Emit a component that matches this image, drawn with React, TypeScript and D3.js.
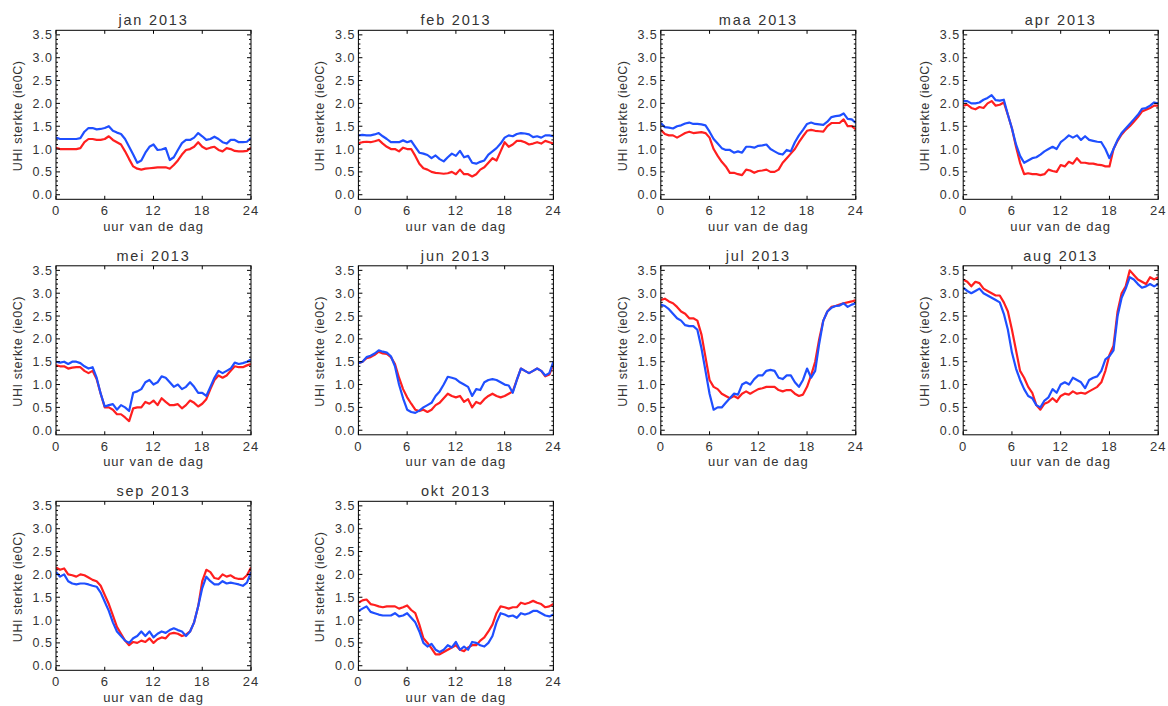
import React from "react";
import * as d3 from "d3";

// ---- data (half-hourly values, 0..24 h) ----
const monthTitles = ["jan 2013", "feb 2013", "maa 2013", "apr 2013", "mei 2013", "jun 2013", "jul 2013", "aug 2013", "sep 2013", "okt 2013"];
const xTickValues = [0, 6, 12, 18, 24];
const yTickValues = [0, 0.5, 1, 1.5, 2, 2.5, 3, 3.5];
const xAxisTitle = "uur van de dag";
const yAxisTitle = "UHI sterkte (ie0C)";

const janBlue = [1.25,1.22,1.22,1.22,1.22,1.22,1.24,1.38,1.46,1.46,1.43,1.44,1.46,1.50,1.40,1.36,1.33,1.22,1.05,0.88,0.70,0.75,0.92,1.05,1.10,0.98,0.99,1.02,0.76,0.82,0.98,1.13,1.20,1.20,1.25,1.35,1.28,1.20,1.22,1.27,1.22,1.15,1.12,1.20,1.20,1.15,1.15,1.16,1.24];
const janRed = [1.03,1.00,1.00,1.00,1.00,1.00,1.02,1.15,1.22,1.22,1.20,1.20,1.22,1.28,1.20,1.15,1.10,0.95,0.78,0.62,0.57,0.55,0.57,0.58,0.59,0.60,0.60,0.60,0.57,0.65,0.75,0.88,0.98,1.00,1.05,1.15,1.05,1.00,1.03,1.05,0.98,0.95,1.02,1.00,0.96,0.95,0.95,0.96,1.03];
const febBlue = [1.30,1.31,1.30,1.30,1.32,1.35,1.28,1.22,1.15,1.15,1.15,1.19,1.15,1.18,1.05,0.92,0.90,0.87,0.80,0.86,0.78,0.73,0.82,0.90,0.85,0.96,0.82,0.85,0.70,0.68,0.72,0.75,0.88,0.95,1.02,1.12,1.25,1.30,1.28,1.33,1.35,1.34,1.32,1.26,1.28,1.25,1.30,1.30,1.28];
const febRed = [1.13,1.15,1.16,1.15,1.17,1.20,1.12,1.05,1.00,1.00,0.95,1.03,1.00,1.00,0.85,0.68,0.58,0.55,0.50,0.48,0.47,0.46,0.47,0.50,0.45,0.55,0.45,0.45,0.40,0.45,0.55,0.60,0.70,0.80,0.75,0.95,1.15,1.05,1.10,1.18,1.18,1.15,1.10,1.12,1.15,1.12,1.18,1.15,1.12];
const maaBlue = [1.57,1.48,1.47,1.45,1.50,1.52,1.56,1.58,1.55,1.55,1.54,1.52,1.38,1.22,1.12,1.02,0.98,0.98,0.92,0.95,0.92,1.05,1.05,1.03,1.07,1.08,1.10,1.00,0.95,0.90,0.88,0.98,0.95,1.15,1.30,1.42,1.55,1.58,1.55,1.54,1.53,1.60,1.70,1.72,1.73,1.78,1.66,1.65,1.57];
const maaRed = [1.42,1.33,1.30,1.30,1.25,1.30,1.35,1.38,1.35,1.36,1.37,1.35,1.25,1.00,0.85,0.72,0.62,0.48,0.48,0.45,0.43,0.55,0.53,0.48,0.52,0.53,0.55,0.50,0.50,0.55,0.70,0.80,0.90,1.00,1.15,1.28,1.40,1.42,1.40,1.39,1.38,1.50,1.57,1.57,1.57,1.65,1.50,1.50,1.43];
const aprBlue = [2.05,2.05,2.00,2.00,2.02,2.08,2.12,2.18,2.07,2.06,2.08,1.75,1.45,1.10,0.85,0.70,0.75,0.80,0.82,0.88,0.95,1.00,1.05,1.00,1.15,1.22,1.30,1.25,1.30,1.20,1.28,1.20,1.18,1.16,1.15,1.00,0.80,1.00,1.20,1.35,1.45,1.55,1.65,1.75,1.88,1.90,1.95,2.02,2.00];
const aprRed = [1.95,1.97,1.90,1.87,1.92,1.90,2.00,2.05,1.95,1.97,2.02,1.75,1.45,1.05,0.70,0.45,0.47,0.45,0.45,0.43,0.45,0.55,0.52,0.50,0.65,0.62,0.72,0.68,0.80,0.70,0.70,0.68,0.68,0.66,0.65,0.62,0.62,1.00,1.18,1.32,1.42,1.50,1.60,1.70,1.82,1.86,1.90,1.95,1.95];
const meiBlue = [1.50,1.48,1.50,1.45,1.50,1.50,1.47,1.40,1.35,1.38,1.15,0.80,0.52,0.55,0.57,0.45,0.55,0.50,0.42,0.82,0.85,0.90,1.05,1.10,1.00,1.05,1.18,1.15,1.05,0.95,1.00,0.90,0.95,1.05,0.95,0.82,0.82,0.75,0.95,1.15,1.30,1.25,1.30,1.35,1.48,1.45,1.47,1.50,1.55];
const meiRed = [1.42,1.40,1.40,1.35,1.37,1.38,1.38,1.30,1.25,1.30,1.12,0.80,0.50,0.50,0.45,0.35,0.35,0.28,0.20,0.48,0.50,0.50,0.62,0.58,0.65,0.55,0.70,0.62,0.55,0.55,0.57,0.48,0.55,0.65,0.60,0.52,0.58,0.68,0.90,1.10,1.20,1.15,1.20,1.30,1.40,1.38,1.38,1.42,1.45];
const junBlue = [1.47,1.50,1.60,1.63,1.68,1.75,1.72,1.70,1.62,1.40,1.00,0.70,0.45,0.40,0.38,0.43,0.50,0.55,0.60,0.75,0.85,1.00,1.17,1.15,1.12,1.05,1.00,0.95,0.75,0.90,0.88,1.05,1.10,1.12,1.10,1.05,1.00,0.98,0.82,1.10,1.35,1.30,1.25,1.30,1.35,1.30,1.20,1.25,1.50];
const junRed = [1.47,1.50,1.58,1.60,1.65,1.72,1.68,1.67,1.60,1.45,1.15,0.90,0.72,0.58,0.45,0.42,0.45,0.40,0.45,0.55,0.60,0.70,0.80,0.75,0.72,0.75,0.62,0.68,0.50,0.62,0.58,0.68,0.75,0.80,0.75,0.72,0.75,0.80,0.85,1.10,1.35,1.30,1.25,1.30,1.35,1.30,1.18,1.22,1.45];
const julBlue = [2.75,2.72,2.65,2.55,2.45,2.40,2.30,2.28,2.28,2.20,1.80,1.30,0.80,0.45,0.50,0.50,0.60,0.70,0.80,0.78,1.00,1.05,1.00,1.12,1.20,1.20,1.30,1.32,1.30,1.15,1.12,1.20,1.20,1.05,0.95,1.10,1.35,1.15,1.30,1.90,2.40,2.60,2.68,2.72,2.73,2.78,2.70,2.75,2.78];
const julRed = [2.85,2.88,2.82,2.78,2.70,2.60,2.55,2.45,2.45,2.40,2.10,1.60,1.10,0.95,0.90,0.80,0.75,0.70,0.75,0.70,0.80,0.85,0.80,0.85,0.90,0.92,0.95,0.95,0.95,0.88,0.85,0.88,0.88,0.80,0.75,0.78,0.95,1.20,1.50,2.00,2.40,2.60,2.70,2.72,2.75,2.78,2.80,2.82,2.85];
const augBlue = [3.12,3.05,3.00,3.05,3.10,3.00,2.95,2.90,2.85,2.80,2.55,2.20,1.70,1.35,1.10,0.90,0.75,0.70,0.55,0.50,0.65,0.72,0.90,0.82,1.00,1.05,1.00,1.15,1.10,1.05,0.92,1.10,1.15,1.18,1.30,1.55,1.62,1.75,2.50,2.90,3.10,3.35,3.30,3.20,3.12,3.15,3.20,3.15,3.20];
const augRed = [3.30,3.25,3.15,3.25,3.22,3.10,3.05,3.00,2.95,2.95,2.80,2.60,2.20,1.75,1.30,1.15,0.95,0.82,0.55,0.45,0.58,0.62,0.70,0.62,0.75,0.80,0.78,0.85,0.80,0.82,0.80,0.85,0.90,0.95,1.05,1.30,1.65,1.85,2.60,3.00,3.15,3.50,3.40,3.30,3.25,3.20,3.35,3.30,3.35];
const sepBlue = [2.05,1.95,2.00,1.85,1.80,1.78,1.80,1.80,1.78,1.75,1.73,1.60,1.40,1.20,0.95,0.75,0.65,0.55,0.50,0.60,0.65,0.75,0.65,0.75,0.62,0.70,0.75,0.72,0.78,0.82,0.78,0.75,0.65,0.75,0.95,1.30,1.70,1.95,1.85,1.78,1.78,1.85,1.80,1.82,1.80,1.78,1.75,1.82,2.05];
const sepRed = [2.15,2.10,2.13,2.00,1.98,1.95,2.00,1.98,1.93,1.88,1.85,1.75,1.55,1.35,1.10,0.85,0.70,0.55,0.45,0.52,0.50,0.55,0.52,0.60,0.50,0.58,0.62,0.60,0.70,0.72,0.70,0.65,0.68,0.75,0.95,1.30,1.85,2.10,2.05,1.92,1.90,2.00,1.95,1.98,1.92,1.90,1.90,1.98,2.15];
const oktBlue = [1.20,1.25,1.30,1.18,1.15,1.12,1.10,1.10,1.10,1.15,1.08,1.10,1.15,1.05,0.95,0.75,0.50,0.42,0.48,0.35,0.30,0.35,0.45,0.40,0.52,0.35,0.42,0.35,0.52,0.50,0.45,0.42,0.50,0.65,0.95,1.15,1.12,1.08,1.10,1.05,1.15,1.12,1.15,1.20,1.20,1.15,1.10,1.08,1.12];
const oktRed = [1.38,1.43,1.45,1.35,1.33,1.30,1.28,1.30,1.30,1.30,1.25,1.28,1.32,1.22,1.15,0.90,0.60,0.50,0.38,0.25,0.25,0.30,0.35,0.40,0.45,0.35,0.32,0.40,0.45,0.45,0.55,0.62,0.75,0.90,1.15,1.30,1.28,1.25,1.28,1.28,1.38,1.35,1.38,1.42,1.38,1.35,1.28,1.30,1.35];

const blueSeries = [janBlue, febBlue, maaBlue, aprBlue, meiBlue, junBlue, julBlue, augBlue, sepBlue, oktBlue];
const redSeries = [janRed, febRed, maaRed, aprRed, meiRed, junRed, julRed, augRed, sepRed, oktRed];

// ---- layout ----
const W = 1168, H = 706;
const PW = 195, PH = 169;
const LEFT0 = 56, COLSTEP = 302.4;
const TOP0 = 30.3, ROWSTEP = 235.5;
const BLUE = "#1f4fff";
const RED = "#ff1f1f";
const FONT = "'Liberation Sans', Arial, sans-serif";
const TXT = "#333";

const x = d3.scaleLinear().domain([0, 24]).range([0, PW]);
const y = d3.scaleLinear().domain([-0.1, 3.6]).range([PH, 0]);
const minorY = d3.range(0, 36).map((i) => i / 10).filter((v) => Math.round(v * 10) % 5 !== 0);

function Panel({ title, red, blue, left, top }: any) {
  const mk = (vals: number[]) =>
    d3.line<number>().x((_, i) => x((i * 24) / (vals.length - 1))).y((v) => y(v))(vals) || "";
  const clipId = "clip-" + title.replace(/\s/g, "");
  return (
    <g transform={`translate(${left},${top})`}>
      <defs>
        <clipPath id={clipId}>
          <rect x={0} y={0} width={PW} height={PH} />
        </clipPath>
      </defs>
      <text x={PW / 2} y={-5} textAnchor="middle" fontSize={14.5} letterSpacing={1.8} fill={TXT} fontFamily={FONT}>{title}</text>
      <g clipPath={`url(#${clipId})`}>
        <path d={mk(red)} fill="none" stroke={RED} strokeWidth={2.2} strokeLinejoin="round" />
        <path d={mk(blue)} fill="none" stroke={BLUE} strokeWidth={2.2} strokeLinejoin="round" />
      </g>
      <rect x={0} y={0} width={PW} height={PH} fill="none" stroke="#000" strokeWidth={1} />
      {yTickValues.map((v) => (
        <g key={"y" + v}>
          <line x1={0} x2={4} y1={y(v)} y2={y(v)} stroke="#000" />
          <line x1={PW - 4} x2={PW} y1={y(v)} y2={y(v)} stroke="#000" />
          <text x={-3} y={y(v) + 4.5} textAnchor="end" fontSize={12.5} letterSpacing={1} fill={TXT} fontFamily={FONT}>{d3.format(".1f")(v)}</text>
        </g>
      ))}
      {minorY.map((v) => (
        <g key={"m" + v}>
          <line x1={0} x2={2} y1={y(v)} y2={y(v)} stroke="#000" />
          <line x1={PW - 2} x2={PW} y1={y(v)} y2={y(v)} stroke="#000" />
        </g>
      ))}
      {xTickValues.map((v) => (
        <g key={"x" + v}>
          <line x1={x(v)} x2={x(v)} y1={PH} y2={PH - 3.5} stroke="#000" />
          <line x1={x(v)} x2={x(v)} y1={0} y2={3.5} stroke="#000" />
          <text x={x(v)} y={PH + 16} textAnchor="middle" fontSize={13} letterSpacing={1} fill={TXT} fontFamily={FONT}>{v}</text>
        </g>
      ))}
      <text x={PW / 2} y={PH + 31.5} textAnchor="middle" fontSize={13} letterSpacing={1} fill={TXT} fontFamily={FONT}>{xAxisTitle}</text>
      <text transform={`translate(${-34},${PH / 2 + 1}) rotate(-90)`} textAnchor="middle" fontSize={12.5} letterSpacing={0.6} fill={TXT} fontFamily={FONT}>{yAxisTitle}</text>
    </g>
  );
}

export default function App() {
  return (
    <svg width={W} height={H} style={{ position: "absolute", left: 0, top: 0, background: "#fff" }}>
      <rect width={W} height={H} fill="#fff" />
      {monthTitles.map((t, i) => (
        <Panel key={t} title={t} red={redSeries[i]} blue={blueSeries[i]}
          left={LEFT0 + (i % 4) * COLSTEP} top={TOP0 + Math.floor(i / 4) * ROWSTEP} />
      ))}
    </svg>
  );
}
